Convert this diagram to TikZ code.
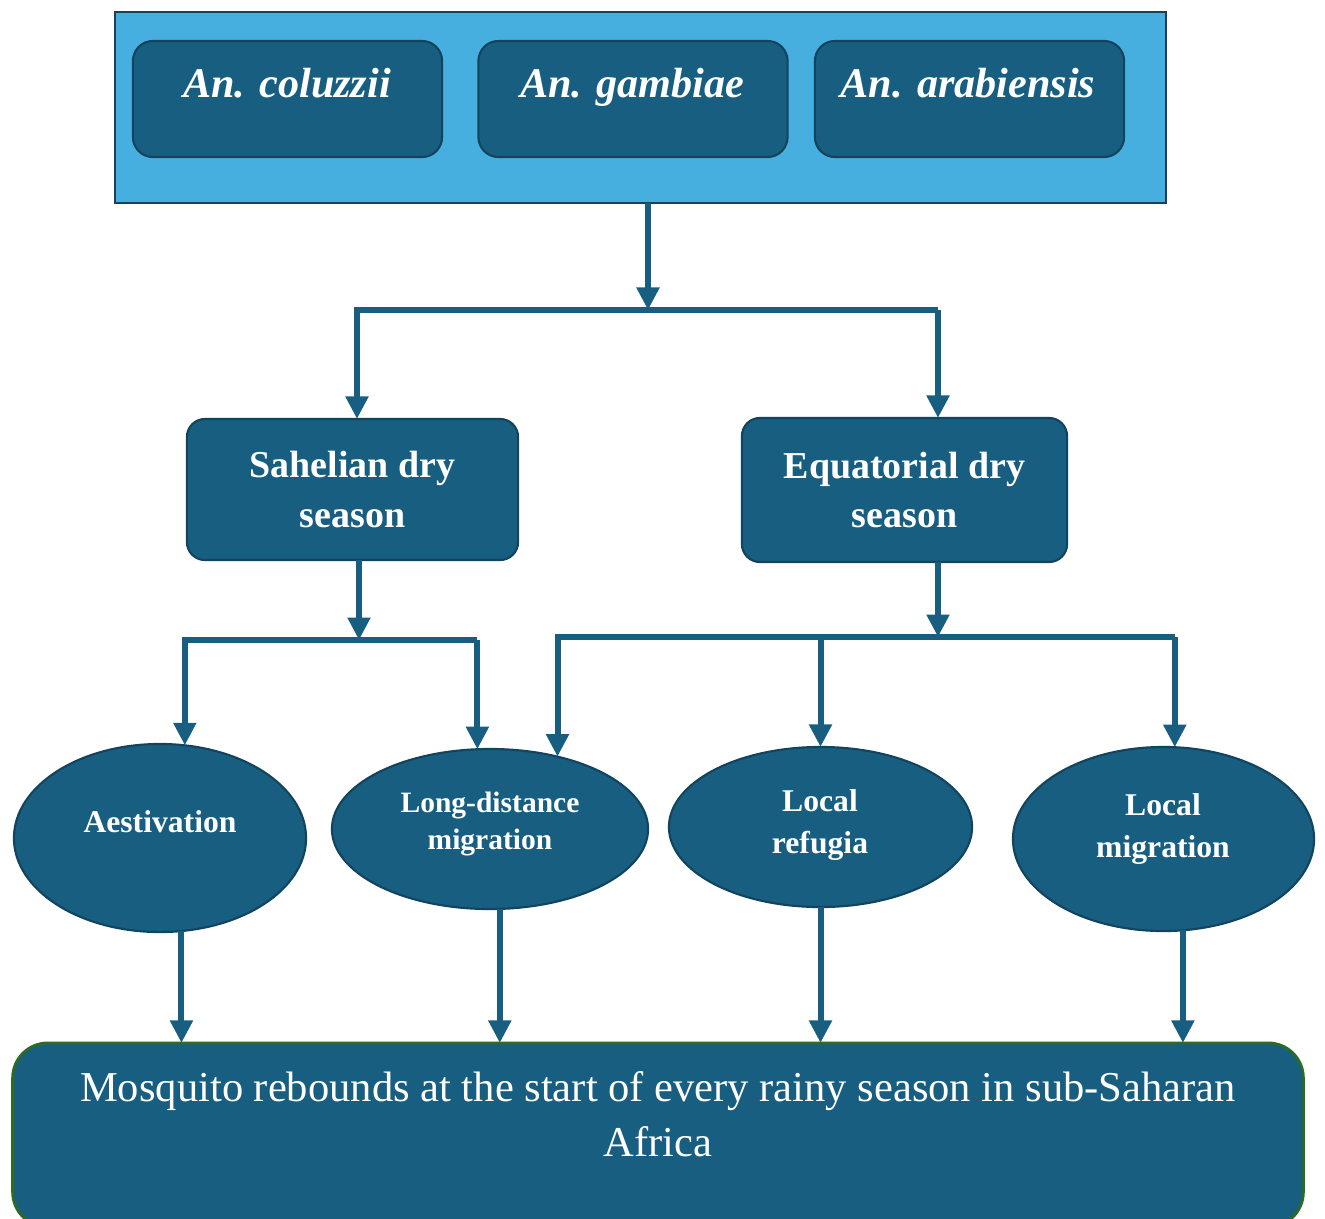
\documentclass[tikz,border=0pt]{standalone}
\usepackage{fontspec}
\setmainfont{Liberation Serif}
\usetikzlibrary{arrows.meta,shapes.geometric}
\definecolor{boxblue}{HTML}{175E80}
\definecolor{skyblue}{HTML}{47AFE0}
\definecolor{edgeblue}{HTML}{12445E}
\definecolor{edgegreen}{HTML}{2C6B26}
\begin{document}
\begin{tikzpicture}[x=0.01cm,y=-0.01cm,inner sep=0pt,outer sep=0pt,line width=1.7pt,
>={Triangle[width=6.2pt,length=6.4pt]},
panel/.style={draw=edgeblue,fill=skyblue,line width=0.6pt,minimum width=10.51cm,minimum height=1.91cm},
species/.style={draw=edgeblue,fill=boxblue,rounded corners=0.2cm,line width=0.6pt,minimum width=3.09cm,minimum height=1.16cm},
speciestext/.style={text=white,anchor=base,font=\fontsize{12}{14}\selectfont\bfseries\itshape},
season/.style={draw=edgeblue,fill=boxblue,rounded corners=0.18cm,line width=0.6pt,text=white,align=center,font=\fontsize{10.8}{14.2}\selectfont\bfseries},
oval/.style={draw=edgeblue,fill=boxblue,ellipse,line width=0.6pt},
ovaltext/.style={text=white,align=center,font=\fontsize{9}{12.2}\selectfont\bfseries},
outcome/.style={draw=edgegreen,fill=boxblue,rounded corners=0.35cm,line width=0.8pt,minimum width=12.9cm,minimum height=1.84cm},
outcometext/.style={text=white,align=center,font=\fontsize{12.1}{15.6}\selectfont},
link/.style={draw=boxblue,->}]
\useasboundingbox (0,0) rectangle (1325,1218);
% species panel
\draw (640.5,107.5) node[panel] (panel) {};
\draw (287.5,99) node[species] (colu) {};
\draw (633,99) node[species] (gamb) {};
\draw (969.5,99) node[species] (arab) {};
\draw (287,97) node[speciestext] (coluT) {An. coluzzii};
\draw (632,97) node[speciestext] (gambT) {An. gambiae};
\draw (968,97) node[speciestext] (arabT) {An. arabiensis};
% dry seasons
\draw (352.5,489.5) node[season,minimum width=3.31cm,minimum height=1.41cm] (sahel) {Sahelian dry\\season};
\draw (904.5,490) node[season,minimum width=3.25cm,minimum height=1.44cm] (equat) {Equatorial dry\\season};
% strategies
\draw (160,838) node[oval,minimum width=2.92cm,minimum height=1.88cm] (aest) {};
\draw (490,829) node[oval,minimum width=3.16cm,minimum height=1.6cm] (longd) {};
\draw (820.5,827) node[oval,minimum width=3.03cm,minimum height=1.6cm] (refug) {};
\draw (1163.5,839) node[oval,minimum width=3.01cm,minimum height=1.84cm] (locmig) {};
\draw (160,822) node[ovaltext] (aestT) {Aestivation};
\draw (490,824) node[ovaltext,font=\fontsize{8.4}{10.8}\selectfont\bfseries] (longdT) {Long-distance\\migration};
\draw (820,825) node[ovaltext] (refugT) {Local\\refugia};
\draw (1163,829) node[ovaltext] (locmigT) {Local\\migration};
% outcome
\draw (658,1135) node[outcome] (rebound) {};
\draw (658,1114) node[outcometext] (reboundT) {Mosquito rebounds at the start of every rainy season in sub-Saharan\\Africa};
% connectors
\coordinate (j1) at (648,310);
\coordinate (j1r) at (938,310);
\coordinate (j2) at (359,640);
\coordinate (j3) at (938,637);
\draw[link] (panel.south -| j1) -- (j1);
\draw[link] (j1r) -- (357,310) -- (357,310 |- sahel.north);
\draw[link] (j1r) -- (j1r |- equat.north);
\draw[link] (j2 |- sahel.south) -- (j2);
\draw[link] (longd.99 |- j2) -- (aest.75 |- j2) -- (aest.75);
\draw[link] (longd.99 |- j2) -- (longd.99);
\draw[link] (j3 |- equat.south) -- (j3);
\draw[link] (locmig.83 |- j3) -- (longd.47 |- j3) -- (longd.47);
\draw[link] (refug.north |- j3) -- (refug.north);
\draw[link] (locmig.83 |- j3) -- (locmig.83);
\draw[link] (aest.-77) -- (aest.-77 |- rebound.north);
\draw[link] (longd.-83) -- (longd.-83 |- rebound.north);
\draw[link] (refug.south) -- (refug.south |- rebound.north);
\draw[link] (locmig.-78) -- (locmig.-78 |- rebound.north);
\end{tikzpicture}
\end{document}
